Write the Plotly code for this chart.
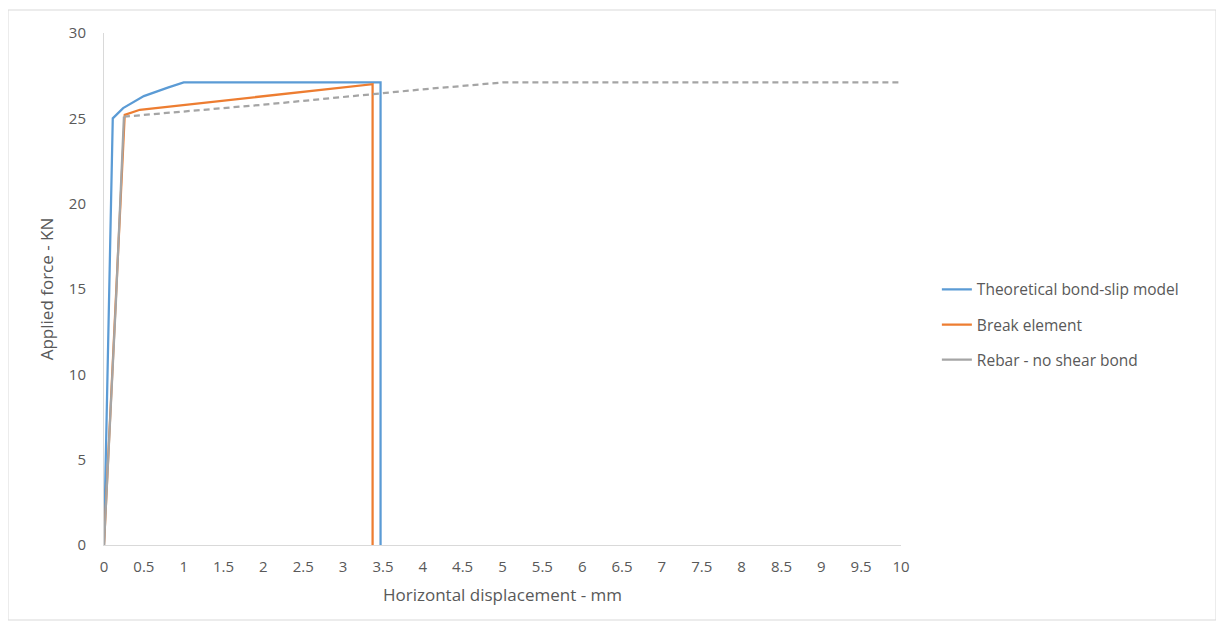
import plotly.graph_objects as go

# Theoretical bond-slip model
blue_x = [0, 0.05, 0.11, 0.24, 0.5, 0.8, 1.0, 3.47, 3.47]
blue_y = [0, 12, 25.0, 25.6, 26.3, 26.8, 27.1, 27.1, 0]

# Break element
orange_x = [0, 0.26, 0.45, 3.35, 3.37, 3.37]
orange_y = [0, 25.2, 25.5, 27.0, 27.0, 0]

# Rebar - no shear bond (rising part solid, plateau dashed)
gray_rise_x = [0, 0.15, 0.25]
gray_rise_y = [0, 14.3, 25.1]
gray_plateau_x = [0.25, 1, 2, 3, 4, 5, 10]
gray_plateau_y = [25.1, 25.4, 25.8, 26.25, 26.7, 27.1, 27.1]

x_ticks = [0, 0.5, 1, 1.5, 2, 2.5, 3, 3.5, 4, 4.5, 5, 5.5, 6, 6.5, 7, 7.5, 8, 8.5, 9, 9.5, 10]
y_ticks = [0, 5, 10, 15, 20, 25, 30]

BLUE = "#5B9BD5"
ORANGE = "#ED7D31"
GRAY = "#A5A5A5"
TXT = "#595959"
FONT = "Open Sans"

L, T, PW, PH = 96, 25, 797, 512
W, H = 1216, 627

fig = go.Figure()
fig.add_trace(go.Scatter(x=blue_x, y=blue_y, mode="lines", name="Theoretical bond-slip model",
                         line=dict(color=BLUE, width=2.25), legendgroup="a"))
fig.add_trace(go.Scatter(x=orange_x, y=orange_y, mode="lines", name="Break element",
                         line=dict(color=ORANGE, width=2.25), legendgroup="b"))
fig.add_trace(go.Scatter(x=gray_rise_x, y=gray_rise_y, mode="lines", name="Rebar - no shear bond",
                         line=dict(color=GRAY, width=2.25), legendgroup="c"))
fig.add_trace(go.Scatter(x=gray_plateau_x, y=gray_plateau_y, mode="lines", showlegend=False,
                         line=dict(color=GRAY, width=2.25, dash="6px,4px"), legendgroup="c"))

fig.update_layout(
    width=W, height=H,
    margin=dict(l=L, r=W - L - PW, t=T, b=H - T - PH),
    paper_bgcolor="white", plot_bgcolor="white",
    font=dict(family=FONT, size=15, color=TXT),
    legend=dict(x=1.045, y=0.43, xanchor="left", yanchor="middle",
                font=dict(size=15.5, color=TXT, family=FONT),
                tracegroupgap=12, traceorder="grouped", bgcolor="rgba(0,0,0,0)"),
    xaxis=dict(range=[0, 10], tickvals=x_ticks, ticktext=[str(v) for v in x_ticks],
               showgrid=False, zeroline=False, showline=True, linecolor="#D9D9D9", linewidth=1,
               ticks="", tickfont=dict(size=15, color=TXT), ticklabelstandoff=8,
               title=dict(text="Horizontal displacement - mm", font=dict(size=17, color=TXT), standoff=14)),
    yaxis=dict(range=[0, 30], tickvals=y_ticks,
               showgrid=False, zeroline=False, showline=True, linecolor="#D9D9D9", linewidth=1,
               ticks="", tickfont=dict(size=15, color=TXT), ticklabelstandoff=14,
               title=dict(text="Applied force - KN", font=dict(size=17, color=TXT), standoff=10)),
    shapes=[dict(type="rect", xref="paper", yref="paper",
                 x0=(0 - L) / PW, x1=(1208 - L) / PW,
                 y0=(T + PH - 612) / PH, y1=(T + PH - 2) / PH,
                 line=dict(color="#D9D9D9", width=1), layer="below")],
)

fig.write_html("out.html")
